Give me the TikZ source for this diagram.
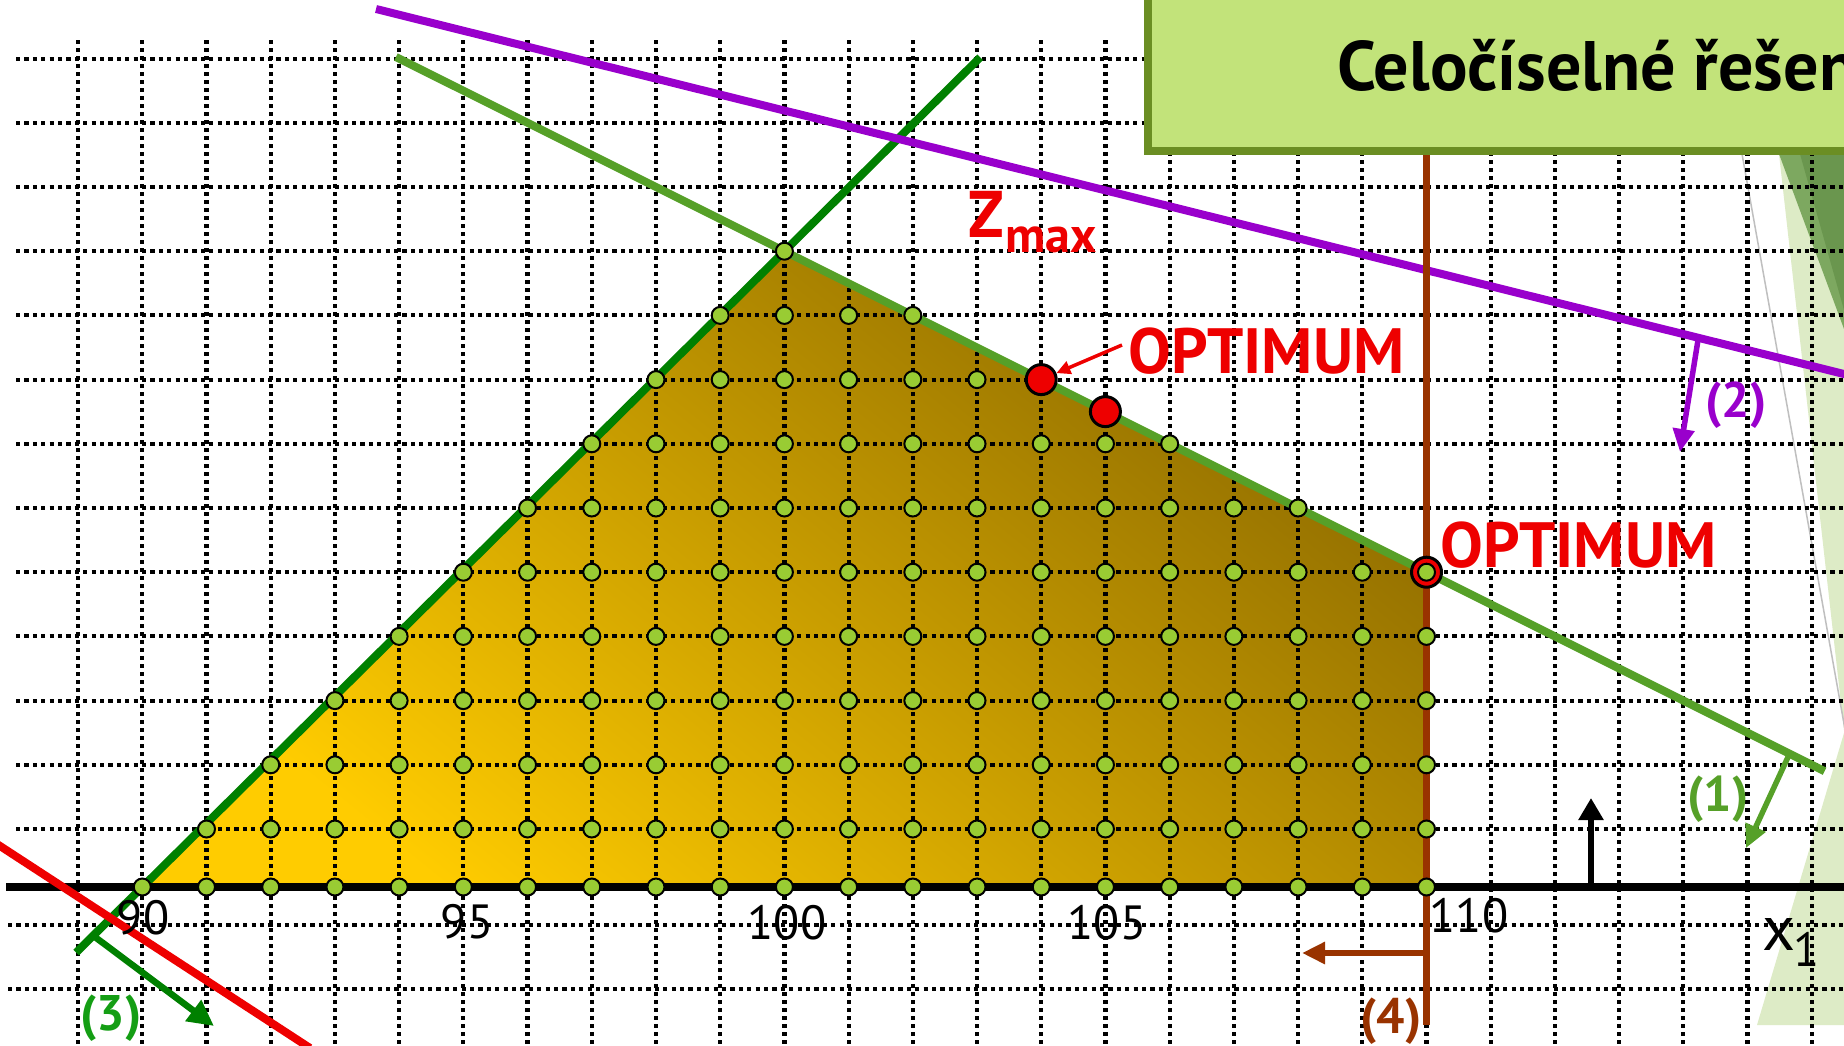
\documentclass[tikz,border=0pt]{standalone}
\usepackage{fontspec}
\setmainfont{PT Sans}
\usetikzlibrary{arrows.meta,calc}
\definecolor{lattg}{RGB}{153,204,51}
\definecolor{optred}{RGB}{238,0,0}
\definecolor{purp}{RGB}{153,0,204}
\definecolor{brownc}{RGB}{153,51,0}
\definecolor{linea}{RGB}{86,160,40}
\definecolor{lineb}{RGB}{0,128,0}
\definecolor{labthree}{RGB}{20,158,20}
\definecolor{fillY}{RGB}{255,204,0}
\definecolor{fillD}{RGB}{143,108,0}
\definecolor{titlefill}{RGB}{194,227,122}
\definecolor{titleedge}{RGB}{107,142,35}
\definecolor{decodark}{RGB}{106,150,78}
\definecolor{decolight}{RGB}{125,168,96}
\definecolor{decopale}{RGB}{221,235,198}
\begin{document}
\begin{tikzpicture}[x=1pt,y=-1pt,
  hgrid/.style={line width=4pt, dash pattern=on 4.2pt off 4.2pt},
  vgrid/.style={line width=4.2pt, dash pattern=on 3.6pt off 4.4pt},
  latt/.style={circle, draw=black, line width=2pt, fill=lattg, inner sep=0pt, minimum size=17pt},
  reddot/.style={circle, draw=black, line width=3pt, fill=optred, inner sep=0pt, minimum size=30pt},
  cline/.style={line width=8pt},
  harrow/.style={line width=5.5pt, -{Triangle[length=23pt,width=21pt]}},
  lab/.style={font=\fontsize{50}{50}\selectfont\bfseries, inner sep=0pt},
  num/.style={font=\fontsize{48}{48}\selectfont, inner sep=0pt},
]
\fill[white] (0,0) rectangle (1844,1045);
\useasboundingbox (0,0) rectangle (1844,1045);
% decorations on the right
\fill[decopale] (1779,154) -- (1844,154) -- (1844,730) -- cycle;
\fill[decopale] (1757,1025) -- (1844,733) -- (1844,1025) -- cycle;
\fill[decolight] (1779,154) -- (1844,154) -- (1844,329) -- cycle;
\fill[decodark] (1800,154) -- (1844,154) -- (1844,310) -- cycle;
\draw[black!25, line width=1.5pt] (1742,154) -- (1846,735);
% key points
\coordinate (A) at (142.3,887);
\coordinate (B) at (784.4,251.2);
\coordinate (C) at (1426.5,572.2);
\coordinate (D) at (1426.5,887);
% feasible region
\shade[bottom color=fillY, top color=fillD, shading angle=-39] (A) -- (B) -- (C) -- (D) -- cycle;
% grid
\foreach \j in {0,...,27} \draw[vgrid] ({78.09+64.21*\j},40) -- ({78.09+64.21*\j},1045);
\foreach \k in {1,...,13} \draw[hgrid] (16,{893.2-64.2*\k}) -- (1844,{893.2-64.2*\k});
\draw[hgrid] (8,925) -- (1844,925);
\draw[hgrid] (8,989) -- (1844,989);
% constraint lines
\draw[cline, lineb] ($(A)!-0.103!(B)$) -- ($(A)!1.305!(B)$);
\draw[cline, linea] ($(B)!-0.605!(C)$) -- ($(B)!1.62!(C)$);
\coordinate (P1) at (376,9);
\coordinate (P2) at (1850,375.5);
\draw[cline, purp] (P1) -- (P2);
\draw[line width=7pt, brownc] (1426.5,140) -- (1426.5,1025);
\draw[line width=8.5pt, black] (6,887) -- (1844,887);
\coordinate (R1) at (-5,842.7);
\coordinate (R2) at (310,1048);
\draw[cline, optred] (R1) -- (R2);
% arrows
\coordinate (pa1) at (1698,340); \coordinate (pa2) at (1680,452);
\coordinate (ga1) at (1788,757); \coordinate (ga2) at (1746,848);
\coordinate (ta1) at (95,937);   \coordinate (ta2) at (214,1026);
\coordinate (ba1) at (1426.5,953); \coordinate (ba2) at (1302,953);
\coordinate (ka1) at (1591,887); \coordinate (ka2) at (1591,798);
\draw[harrow, purp] (pa1) -- (pa2);
\draw[harrow, linea] (ga1) -- (ga2);
\draw[harrow, lineb, line width=6.5pt, -{Triangle[length=26pt,width=25pt]}] (ta1) -- (ta2);
\draw[harrow, brownc, line width=6pt] (ba1) -- (ba2);
\draw[line width=6.5pt, black, -{Triangle[length=22pt,width=24pt]}] (ka1) -- (ka2);
% optimum circle at C
\node[reddot] (optC) at (C) {};
% lattice points
\foreach \k in {0,...,10} {
  \pgfmathtruncatemacro\xa{90+\k}
  \pgfmathtruncatemacro\xb{min(110,120-2*\k)}
  \pgfmathsetmacro\yy{\k==0 ? 887 : 893.2-64.2*\k}
  \foreach \i in {\xa,...,\xb} {
    \node[latt] (p-\i-\k) at ({142.3+64.21*(\i-90)},\yy) {};
  }
}
\node[reddot] (opt1) at (1041.2,379.6) {};
\node[reddot] (opt2) at (1105.4,411.6) {};
% labels
\node[anchor=base west, inner sep=0pt, text=optred, font=\fontsize{64}{64}\selectfont\bfseries] (olab1) at (1128,373) {OPTIMUM};
\node[anchor=base west, inner sep=0pt, text=optred, font=\fontsize{64}{64}\selectfont\bfseries] (olab2) at (1440,567) {OPTIMUM};
\coordinate (ra1) at (1122,345);
\draw[line width=3.5pt, optred, -{Triangle[length=14pt,width=13pt]}] (ra1) -- (opt1);
\node[anchor=base west, inner sep=0pt, text=optred, font=\fontsize{66}{66}\selectfont\bfseries] (zlab) at (968,237) {Z};
\node[anchor=base west, inner sep=0pt, text=optred, font=\fontsize{50}{50}\selectfont\bfseries] (zsub) at (1005,252) {max};
\node[lab, text=linea] (l1) at (1718,799) {(1)};
\node[lab, text=purp] (l2) at (1736,405) {(2)};
\node[lab, text=labthree] (l3) at (111,1018) {(3)};
\node[lab, text=brownc] (l4) at (1391,1021) {(4)};
\node[num] (n90) at (143,918) {90};
\node[num] (n95) at (467,922) {95};
\node[num] (n100) at (787,923) {100};
\node[num] (n105) at (1107,923) {105};
\node[num] (n110) at (1469,916) {110};
\node[anchor=base west, inner sep=0pt, font=\fontsize{64}{64}\selectfont] (xlab) at (1762,950) {x};
\node[anchor=base west, inner sep=0pt, font=\fontsize{48}{48}\selectfont] (xsub) at (1793,966) {1};
% title box
\draw[line width=8pt, titleedge, fill=titlefill] (1148,-20) rectangle (1880,151);
\node[anchor=base west, inner sep=0pt, font=\fontsize{70}{70}\selectfont\bfseries] (title) at (1337,90) {Celočíselné řešen};
\end{tikzpicture}
\end{document}
